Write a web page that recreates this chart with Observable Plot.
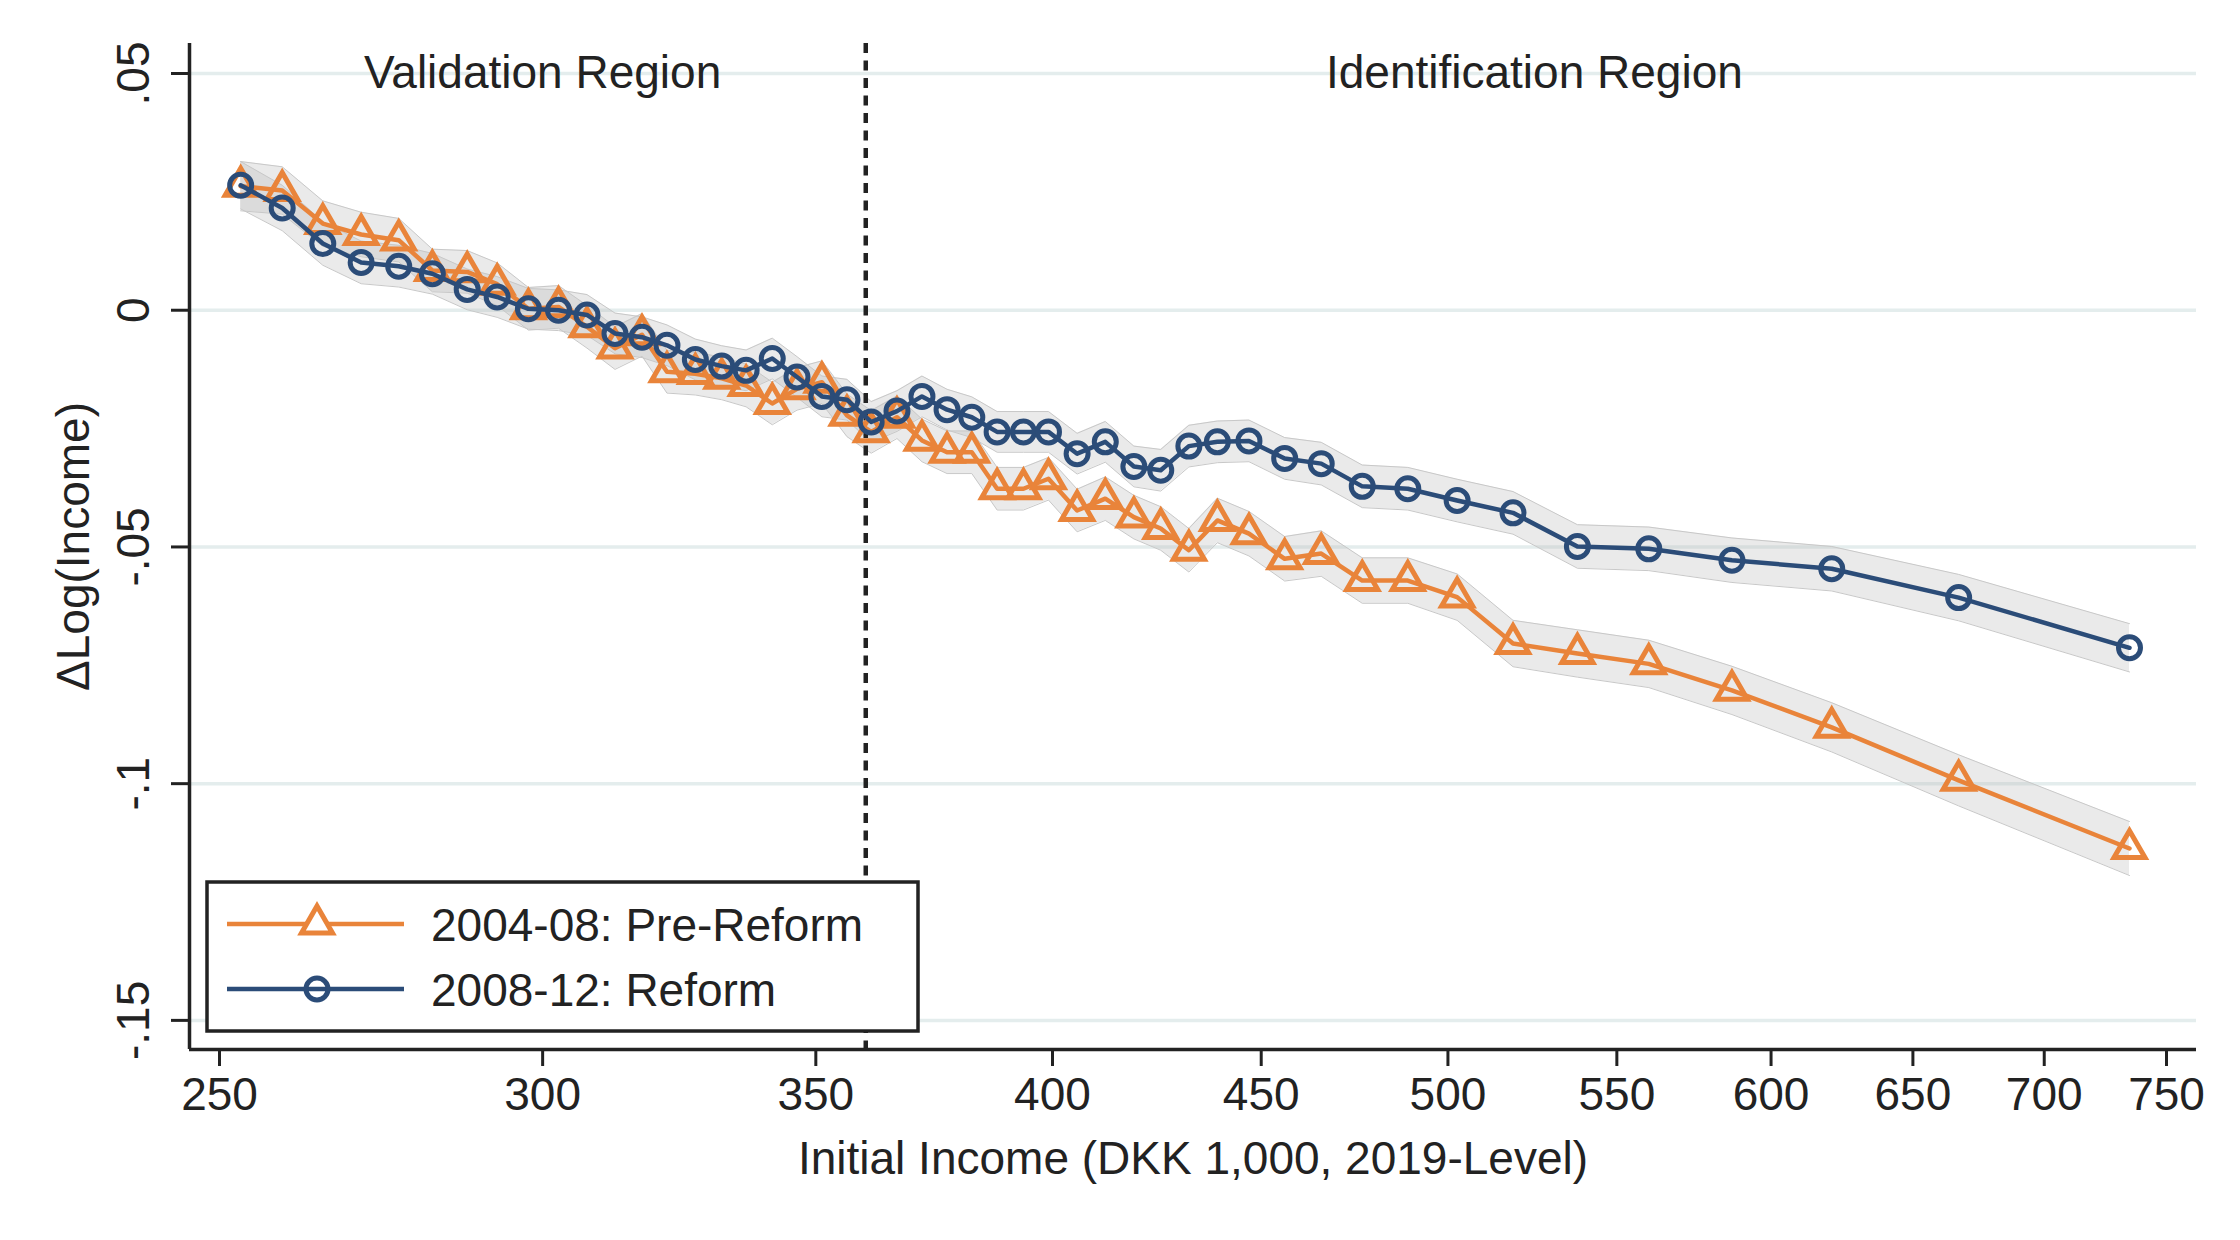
<!DOCTYPE html>
<html><head><meta charset="utf-8">
<script src="https://cdn.jsdelivr.net/npm/d3@7"></script>
<script src="https://cdn.jsdelivr.net/npm/@observablehq/plot@0.6"></script>
<style>
html,body{margin:0;padding:0;background:#fff;}
#chart{width:2240px;height:1240px;}
</style>
</head><body><div id="chart"></div>
<script>
// ---- Data ----
const income = [253.0, 259.0, 265.0, 270.8, 276.6, 281.9, 287.5, 292.4, 297.6, 302.7,
  307.6, 312.5, 317.3, 321.8, 327.0, 331.9, 336.5, 341.5, 346.3, 351.2,
  356.2, 361.1, 366.4, 371.6, 376.9, 382.2, 387.7, 393.5, 399.1, 405.6,
  412.1, 418.8, 425.2, 432.0, 439.0, 446.9, 456.0, 465.5, 476.4, 488.8,
  502.6, 518.7, 537.9, 560.0, 586.9, 620.9, 667.0, 734.5];

const preReform = [0.0262, 0.0253, 0.0183, 0.0160, 0.0148, 0.0084, 0.0081, 0.0055, 0.0003, 0.0007,
  -0.0035, -0.0080, -0.0052, -0.0130, -0.0134, -0.0144, -0.0159, -0.0197, -0.0166, -0.0152,
  -0.0222, -0.0257, -0.0226, -0.0275, -0.0300, -0.0300, -0.0377, -0.0377, -0.0356, -0.0423,
  -0.0398, -0.0437, -0.0461, -0.0507, -0.0444, -0.0472, -0.0525, -0.0514, -0.0571, -0.0571,
  -0.0606, -0.0704, -0.0725, -0.0747, -0.0803, -0.0881, -0.0993, -0.1137];

const reform = [0.0264, 0.0216, 0.0141, 0.0101, 0.0093, 0.0077, 0.0044, 0.0028, 0.0003, 0.0000,
  -0.0010, -0.0049, -0.0057, -0.0074, -0.0104, -0.0118, -0.0127, -0.0102, -0.0141, -0.0182,
  -0.0189, -0.0236, -0.0213, -0.0182, -0.0210, -0.0226, -0.0257, -0.0257, -0.0257, -0.0303,
  -0.0278, -0.0330, -0.0338, -0.0287, -0.0278, -0.0276, -0.0313, -0.0324, -0.0372, -0.0377,
  -0.0402, -0.0428, -0.0499, -0.0504, -0.0528, -0.0546, -0.0607, -0.0713];

// half-widths of the shaded confidence bands
const ciPreReform = [0.0052, 0.0050, 0.0048, 0.0047, 0.0046, 0.0045, 0.0045, 0.0045, 0.0045, 0.0045,
  0.0045, 0.0045, 0.0045, 0.0045, 0.0045, 0.0045, 0.0045, 0.0045, 0.0045, 0.0045,
  0.0045, 0.0045, 0.0045, 0.0045, 0.0045, 0.0045, 0.0045, 0.0045, 0.0045, 0.0045,
  0.0046, 0.0046, 0.0046, 0.0046, 0.0047, 0.0047, 0.0047, 0.0048, 0.0048, 0.0048,
  0.0049, 0.0049, 0.0050, 0.0050, 0.0051, 0.0052, 0.0054, 0.0057];
const ciReform = [0.0050, 0.0048, 0.0046, 0.0045, 0.0044, 0.0043, 0.0043, 0.0043, 0.0043, 0.0043,
  0.0043, 0.0043, 0.0043, 0.0043, 0.0043, 0.0043, 0.0043, 0.0043, 0.0043, 0.0043,
  0.0043, 0.0043, 0.0043, 0.0043, 0.0043, 0.0043, 0.0043, 0.0043, 0.0043, 0.0043,
  0.0043, 0.0043, 0.0044, 0.0044, 0.0044, 0.0044, 0.0044, 0.0045, 0.0045, 0.0045,
  0.0045, 0.0045, 0.0046, 0.0046, 0.0047, 0.0047, 0.0049, 0.0051];

const seriesNames = ["2004-08: Pre-Reform", "2008-12: Reform"];
const seriesColors = ["#e9843a", "#2b4c78"];
const seriesSymbols = ["triangle", "circle"];

const xTicks = [250, 300, 350, 400, 450, 500, 550, 600, 650, 700, 750];
const yTicks = [0.05, 0, -0.05, -0.1, -0.15];
const yTickLabels = [".05", "0", "-.05", "-.1", "-.15"];
const xDomain = [245.8, 762.8];
const yDomain = [-0.15615, 0.05634];
const cutoff = [360];
const regionLabels = [
  {x: 300, y: 0.05, text: "Validation Region"},
  {x: 525, y: 0.05, text: "Identification Region"}
];
const xTitle = "Initial Income (DKK 1,000, 2019-Level)";
const yTitle = "\u0394Log(Income)";

// ---- Build tables ----
const pre = income.map((x, i) => ({series: seriesNames[0], x, y: preReform[i], lo: preReform[i] - ciPreReform[i], hi: preReform[i] + ciPreReform[i]}));
const ref = income.map((x, i) => ({series: seriesNames[1], x, y: reform[i], lo: reform[i] - ciReform[i], hi: reform[i] + ciReform[i]}));

const ink = "#222";
const FS = 46;
const R = {triangle: 11.5, circle: 11};

function legendMark(index, scales, values, dims) {
  const g = d3.create("svg:g").attr("text-anchor", "start");
  const x0 = dims.marginLeft + 18;
  const yb = dims.height - dims.marginBottom - 18;
  const w = 711, h = 149;
  const y0 = yb - h;
  g.append("rect").attr("x", x0).attr("y", y0).attr("width", w).attr("height", h)
    .attr("fill", "white").attr("stroke", ink).attr("stroke-width", 3.5);
  seriesNames.forEach((name, i) => {
    const cy = y0 + 42 + i * 65;
    g.append("line").attr("x1", x0 + 20).attr("x2", x0 + 197).attr("y1", cy).attr("y2", cy)
      .attr("stroke", seriesColors[i]).attr("stroke-width", 4.5);
    const s = seriesSymbols[i];
    const sym = s === "triangle" ? d3.symbolTriangle : d3.symbolCircle;
    g.append("path").attr("d", d3.symbol(sym, Math.PI * R[s] * R[s])())
      .attr("transform", `translate(${x0 + 110},${cy})`)
      .attr("fill", s === "triangle" ? "white" : "none")
      .attr("stroke", seriesColors[i]).attr("stroke-width", 5);
    g.append("text").attr("x", x0 + 224).attr("y", cy + 17).attr("fill", ink)
      .attr("text-anchor", "start").attr("font-size", FS).text(name);
  });
  return g.node();
}

const chart = Plot.plot({
  width: 2240,
  height: 1240,
  marginLeft: 189,
  marginRight: 44,
  marginTop: 43,
  marginBottom: 191,
  style: {fontFamily: "'Liberation Sans', Arial, sans-serif", fontSize: FS + "px", color: ink, background: "white"},
  x: {type: "log", domain: xDomain},
  y: {domain: yDomain},
  marks: [
    Plot.gridY(yTicks, {stroke: "#e4eded", strokeOpacity: 1, strokeWidth: 3.5}),
    Plot.areaY(pre, {x: "x", y1: "lo", y2: "hi", fill: "#b8b8b8", fillOpacity: 0.3}),
    Plot.areaY(ref, {x: "x", y1: "lo", y2: "hi", fill: "#b8b8b8", fillOpacity: 0.3}),
    Plot.lineY(pre, {x: "x", y: "lo", stroke: "#c8c8c8", strokeWidth: 1}),
    Plot.lineY(pre, {x: "x", y: "hi", stroke: "#c8c8c8", strokeWidth: 1}),
    Plot.lineY(ref, {x: "x", y: "lo", stroke: "#c8c8c8", strokeWidth: 1}),
    Plot.lineY(ref, {x: "x", y: "hi", stroke: "#c8c8c8", strokeWidth: 1}),
    Plot.ruleX(cutoff, {stroke: ink, strokeWidth: 4.5, strokeDasharray: "10,7.5"}),
    Plot.lineY(pre, {x: "x", y: "y", stroke: seriesColors[0], strokeWidth: 4.5}),
    Plot.dot(pre, {x: "x", y: "y", symbol: seriesSymbols[0], r: R.triangle, stroke: seriesColors[0], strokeWidth: 5, fill: "none"}),
    Plot.lineY(ref, {x: "x", y: "y", stroke: seriesColors[1], strokeWidth: 4.5}),
    Plot.dot(ref, {x: "x", y: "y", symbol: seriesSymbols[1], r: R.circle, stroke: seriesColors[1], strokeWidth: 5, fill: "none"}),
    Plot.ruleX([xDomain[0]], {stroke: ink, strokeWidth: 3.5}),
    Plot.ruleY([yDomain[0]], {stroke: ink, strokeWidth: 3.5}),
    Plot.axisX({ticks: xTicks, tickFormat: d => String(d), tickSize: 17, tickPadding: 11, strokeWidth: 3, label: null, fontSize: FS}),
    Plot.axisY({ticks: yTicks, tickFormat: () => "", tickSize: 18, strokeWidth: 3, label: null}),
    Plot.text(yTicks, {y: d => d, text: (d, i) => yTickLabels[i], frameAnchor: "left", dx: -41, rotate: -90, textAnchor: "middle", lineAnchor: "bottom", fill: ink, fontSize: FS}),
    Plot.text([yTitle], {frameAnchor: "left", dx: -101, rotate: -90, textAnchor: "middle", lineAnchor: "bottom", fill: ink, fontSize: FS}),
    Plot.text([xTitle], {frameAnchor: "bottom", dy: 124, textAnchor: "middle", lineAnchor: "bottom", fill: ink, fontSize: FS}),
    Plot.text(regionLabels, {x: "x", y: "y", text: "text", textAnchor: "middle", lineAnchor: "middle", fill: ink, fontSize: FS}),
    legendMark
  ]
});
document.getElementById("chart").appendChild(chart);
</script>
</body></html>
